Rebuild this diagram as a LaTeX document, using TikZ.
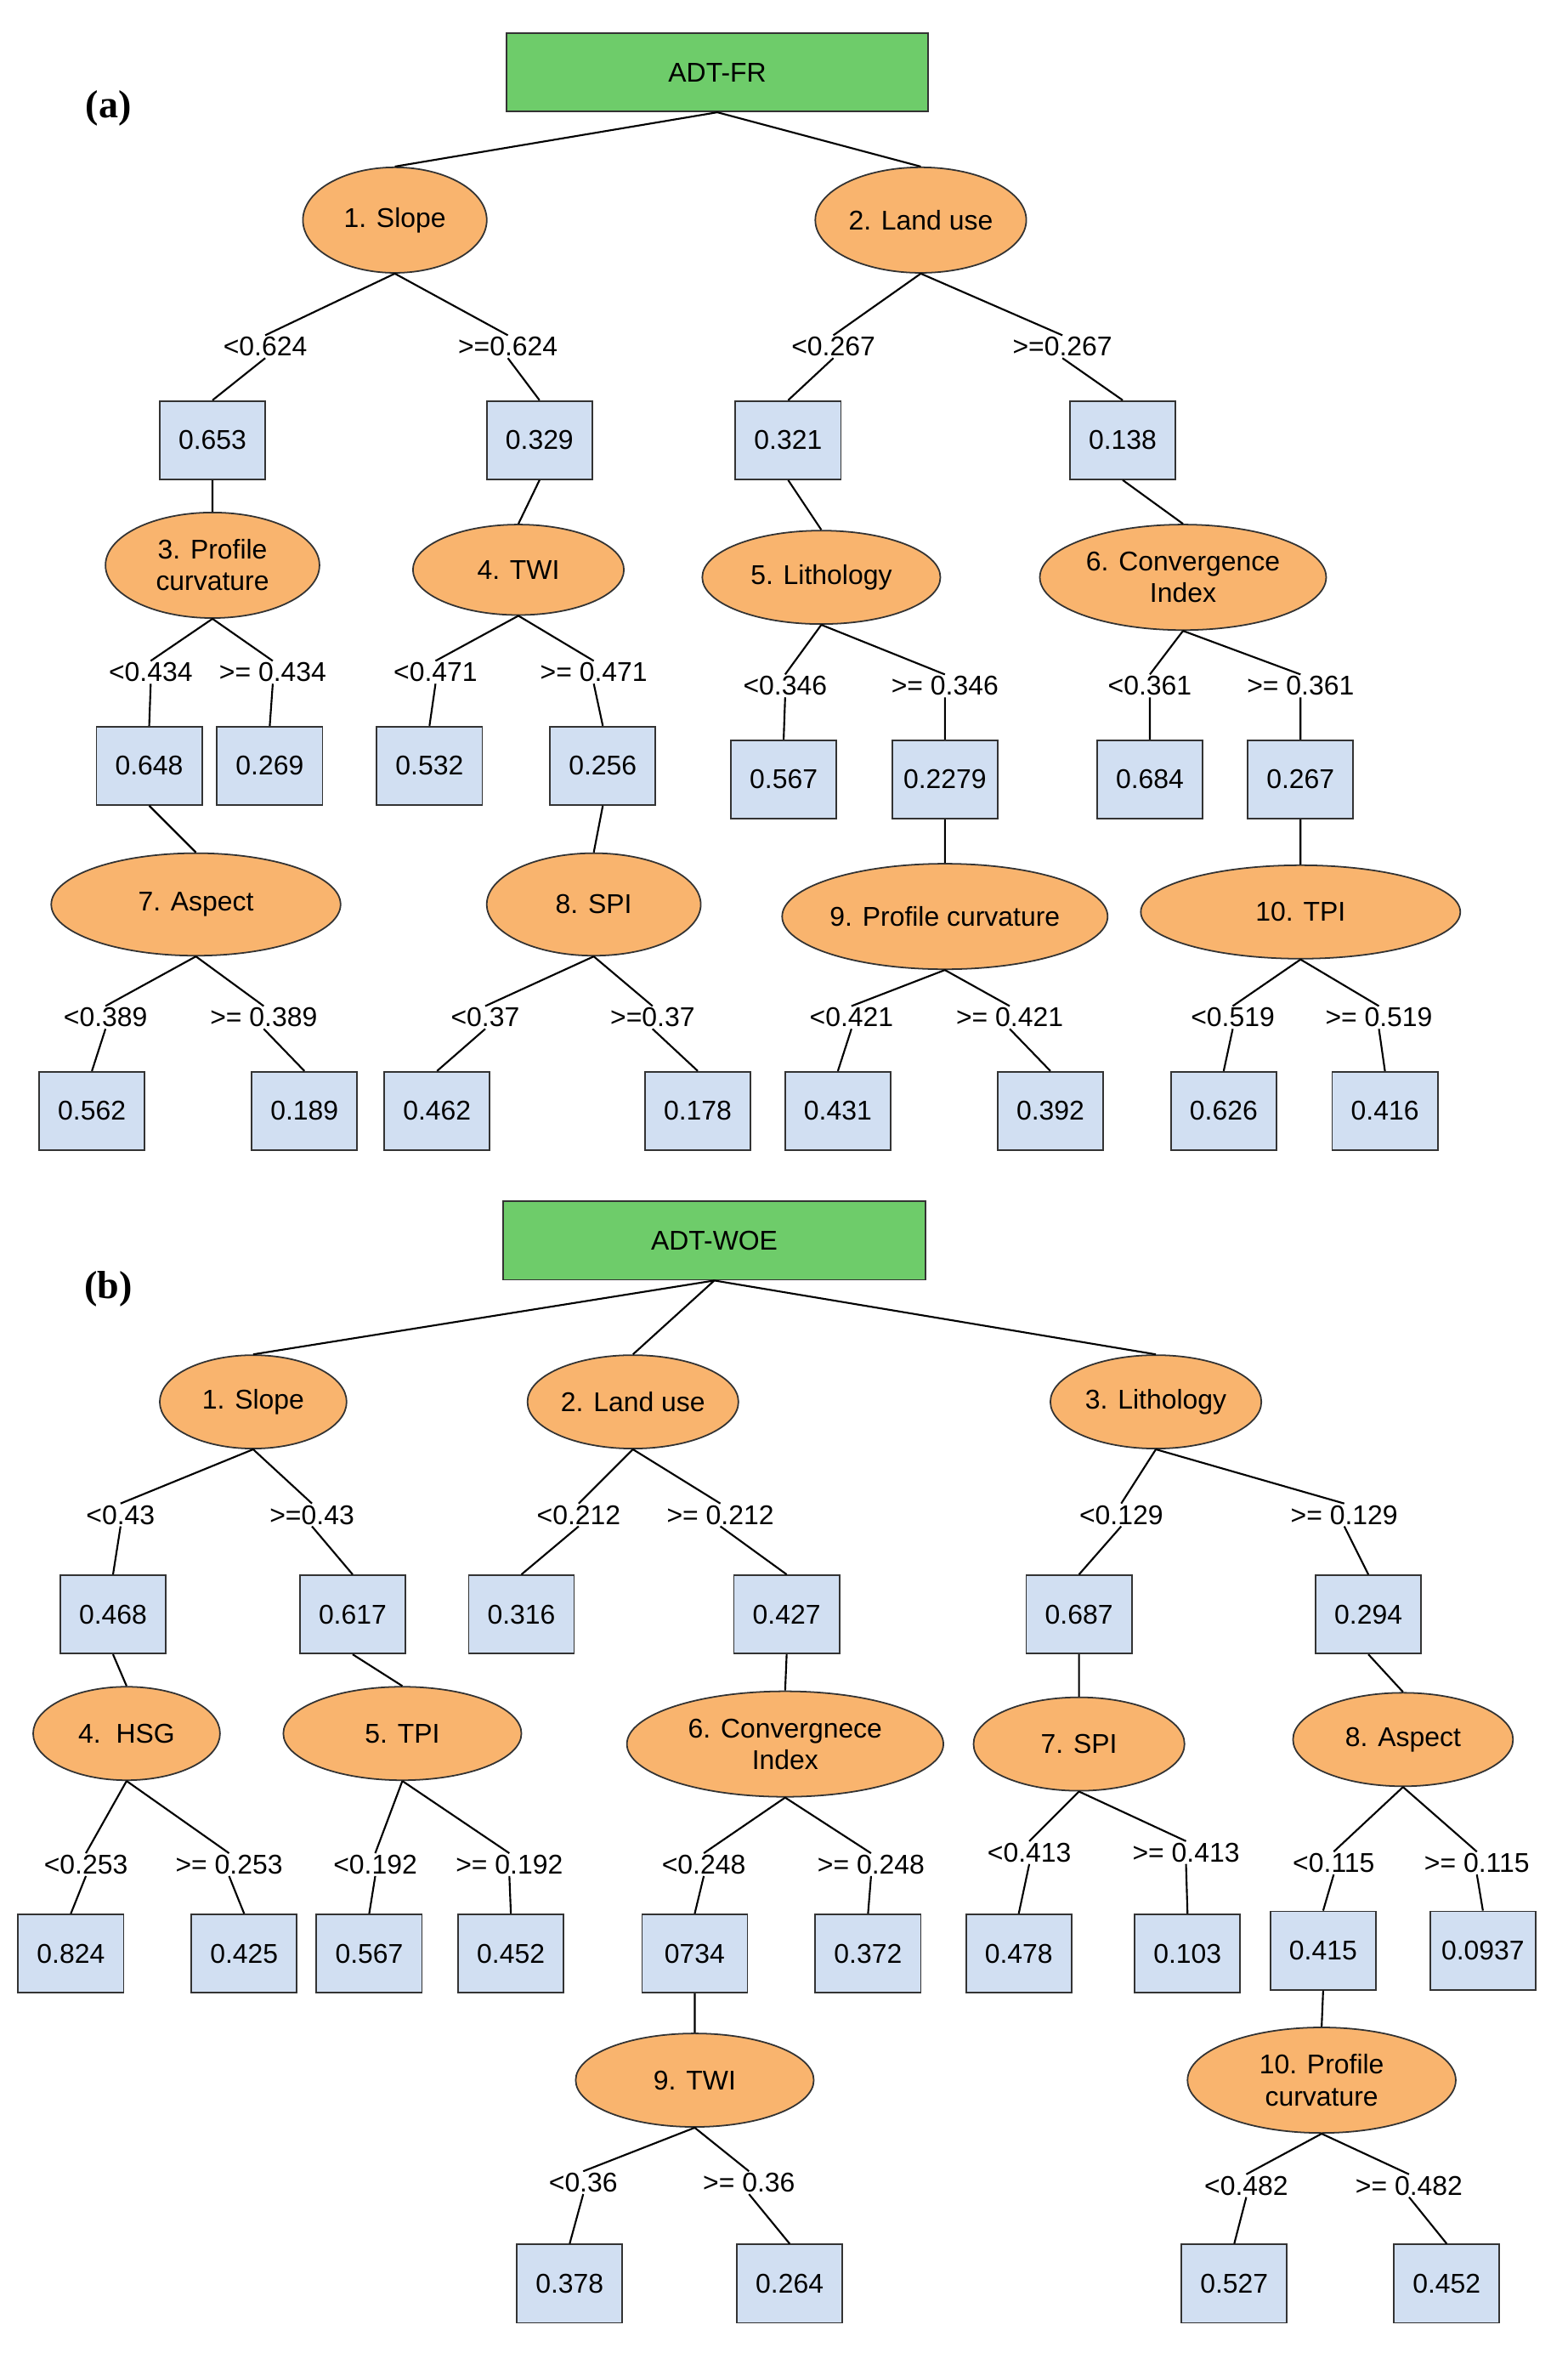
\documentclass[tikz,border=0pt]{standalone}
\usepackage{fontspec}
\setmainfont{Liberation Sans}
\newfontfamily\serifb{Liberation Serif}
\usetikzlibrary{shapes.geometric}
\begin{document}
\begin{tikzpicture}[x=1pt,y=-1pt,
 every node/.style={font=\fontsize{18}{20}\selectfont},
 root/.style={draw=black!80,line width=1pt,fill={rgb,255:red,110;green,204;blue,106},minimum width=280,minimum height=52,inner sep=0},
 el/.style={ellipse,draw=black!80,line width=1pt,fill={rgb,255:red,249;green,180;blue,110},inner sep=0,align=center,font=\fontsize{18}{21}\selectfont},
 bx/.style={draw=black!80,line width=1pt,fill={rgb,255:red,209;green,223;blue,242},minimum width=70,minimum height=52,inner sep=2},
 lb/.style={inner sep=1},
 ln/.style={line width=1.2pt}]
\useasboundingbox (0,0) rectangle (1040,1561);
\node[font=\serifb\bfseries\fontsize{26}{28}\selectfont] at (72,72) {(a)};
\node[font=\serifb\bfseries\fontsize{26}{28}\selectfont] at (72,855) {(b)};
% ---------- (a)
\node[root] (A) at (476,48) {ADT-FR};
\node[el,minimum width=122,minimum height=70] (a1) at (262,146) {1. Slope};
\node[el,minimum width=140,minimum height=70] (a2) at (611,146) {2. Land use};
\node[lb] (la1) at (176,230) {<0.624};
\node[lb] (la2) at (337,230) {>=0.624};
\node[lb] (la3) at (553,230) {<0.267};
\node[lb] (la4) at (705,230) {>=0.267};
\node[bx] (b1) at (141,292) {0.653};
\node[bx] (b2) at (358,292) {0.329};
\node[bx] (b3) at (523,292) {0.321};
\node[bx] (b4) at (745,292) {0.138};
\node[el,minimum width=142,minimum height=70] (a3) at (141,375) {3. Profile\\curvature};
\node[el,minimum width=140,minimum height=60] (a4) at (344,378) {4. TWI};
\node[el,minimum width=158,minimum height=62] (a5) at (545,383) {5. Lithology};
\node[el,minimum width=190,minimum height=70] (a6) at (785,383) {6. Convergence\\Index};
\node[lb] (lb1) at (100,446) {<0.434};
\node[lb] (lb2) at (181,446) {>= 0.434};
\node[lb] (lb3) at (289,446) {<0.471};
\node[lb] (lb4) at (394,446) {>= 0.471};
\node[lb] (lb5) at (521,455) {<0.346};
\node[lb] (lb6) at (627,455) {>= 0.346};
\node[lb] (lb7) at (763,455) {<0.361};
\node[lb] (lb8) at (863,455) {>= 0.361};
\node[bx] (c1) at (99,508) {0.648};
\node[bx] (c2) at (179,508) {0.269};
\node[bx] (c3) at (285,508) {0.532};
\node[bx] (c4) at (400,508) {0.256};
\node[bx] (c5) at (520,517) {0.567};
\node[bx] (c6) at (627,517) {0.2279};
\node[bx] (c7) at (763,517) {0.684};
\node[bx] (c8) at (863,517) {0.267};
\node[el,minimum width=192,minimum height=68] (a7) at (130,600) {7. Aspect};
\node[el,minimum width=142,minimum height=68] (a8) at (394,600) {8. SPI};
\node[el,minimum width=212,minimum height=70] (a9) at (627,608) {9. Profile curvature};
\node[el,minimum width=212,minimum height=62] (a10) at (863,605) {10. TPI};
\node[lb] (lc1) at (70,675) {<0.389};
\node[lb] (lc2) at (175,675) {>= 0.389};
\node[lb] (lc3) at (322,675) {<0.37};
\node[lb] (lc4) at (433,675) {>=0.37};
\node[lb] (lc5) at (565,675) {<0.421};
\node[lb] (lc6) at (670,675) {>= 0.421};
\node[lb] (lc7) at (818,675) {<0.519};
\node[lb] (lc8) at (915,675) {>= 0.519};
\node[bx] (d1) at (61,737) {0.562};
\node[bx] (d2) at (202,737) {0.189};
\node[bx] (d3) at (290,737) {0.462};
\node[bx] (d4) at (463,737) {0.178};
\node[bx] (d5) at (556,737) {0.431};
\node[bx] (d6) at (697,737) {0.392};
\node[bx] (d7) at (812,737) {0.626};
\node[bx] (d8) at (919,737) {0.416};
\draw[ln] (A.south)--(a1.north) (A.south)--(a2.north);
\draw[ln] (a1.south)--(la1.north) (a1.south)--(la2.north) (a2.south)--(la3.north) (a2.south)--(la4.north);
\draw[ln] (la1.south)--(b1.north) (la2.south)--(b2.north) (la3.south)--(b3.north) (la4.south)--(b4.north);
\draw[ln] (b1.south)--(a3.north) (b2.south)--(a4.north) (b3.south)--(a5.north) (b4.south)--(a6.north);
\draw[ln] (a3.south)--(lb1.north) (a3.south)--(lb2.north) (a4.south)--(lb3.north) (a4.south)--(lb4.north)
 (a5.south)--(lb5.north) (a5.south)--(lb6.north) (a6.south)--(lb7.north) (a6.south)--(lb8.north);
\draw[ln] (lb1.south)--(c1.north) (lb2.south)--(c2.north) (lb3.south)--(c3.north) (lb4.south)--(c4.north)
 (lb5.south)--(c5.north) (lb6.south)--(c6.north) (lb7.south)--(c7.north) (lb8.south)--(c8.north);
\draw[ln] (c1.south)--(a7.north) (c4.south)--(a8.north) (c6.south)--(a9.north) (c8.south)--(a10.north);
\draw[ln] (a7.south)--(lc1.north) (a7.south)--(lc2.north) (a8.south)--(lc3.north) (a8.south)--(lc4.north)
 (a9.south)--(lc5.north) (a9.south)--(lc6.north) (a10.south)--(lc7.north) (a10.south)--(lc8.north);
\draw[ln] (lc1.south)--(d1.north) (lc2.south)--(d2.north) (lc3.south)--(d3.north) (lc4.south)--(d4.north)
 (lc5.south)--(d5.north) (lc6.south)--(d6.north) (lc7.south)--(d7.north) (lc8.south)--(d8.north);
% ---------- (b)
\node[root] (B) at (474,823) {ADT-WOE};
\node[el,minimum width=124,minimum height=62] (e1) at (168,930) {1. Slope};
\node[el,minimum width=140,minimum height=62] (e2) at (420,930) {2. Land use};
\node[el,minimum width=140,minimum height=62] (e3) at (767,930) {3. Lithology};
\node[lb] (m1) at (80,1005) {<0.43};
\node[lb] (m2) at (207,1005) {>=0.43};
\node[lb] (m3) at (384,1005) {<0.212};
\node[lb] (m4) at (478,1005) {>= 0.212};
\node[lb] (m5) at (744,1005) {<0.129};
\node[lb] (m6) at (892,1005) {>= 0.129};
\node[bx] (f1) at (75,1071) {0.468};
\node[bx] (f2) at (234,1071) {0.617};
\node[bx] (f3) at (346,1071) {0.316};
\node[bx] (f4) at (522,1071) {0.427};
\node[bx] (f5) at (716,1071) {0.687};
\node[bx] (f6) at (908,1071) {0.294};
\node[el,minimum width=124,minimum height=62] (e4) at (84,1150) {4.\ \ HSG};
\node[el,minimum width=158,minimum height=62] (e5) at (267,1150) {5. TPI};
\node[el,minimum width=210,minimum height=70] (e6) at (521,1157) {6. Convergnece\\Index};
\node[el,minimum width=140,minimum height=62] (e7) at (716,1157) {7. SPI};
\node[el,minimum width=146,minimum height=62] (e8) at (931,1154) {8. Aspect};
\node[lb] (n1) at (57,1237) {<0.253};
\node[lb] (n2) at (152,1237) {>= 0.253};
\node[lb] (n3) at (249,1237) {<0.192};
\node[lb] (n4) at (338,1237) {>= 0.192};
\node[lb] (n5) at (467,1237) {<0.248};
\node[lb] (n6) at (578,1237) {>= 0.248};
\node[lb] (n7) at (683,1229) {<0.413};
\node[lb] (n8) at (787,1229) {>= 0.413};
\node[lb] (n9) at (885,1236) {<0.115};
\node[lb] (n10) at (980,1236) {>= 0.115};
\node[bx] (g1) at (47,1296) {0.824};
\node[bx] (g2) at (162,1296) {0.425};
\node[bx] (g3) at (245,1296) {0.567};
\node[bx] (g4) at (339,1296) {0.452};
\node[bx] (g5) at (461,1296) {0734};
\node[bx] (g6) at (576,1296) {0.372};
\node[bx] (g7) at (676,1296) {0.478};
\node[bx] (g8) at (788,1296) {0.103};
\node[bx] (g9) at (878,1294) {0.415};
\node[bx] (g10) at (984,1294) {0.0937};
\node[el,minimum width=158,minimum height=62] (e9) at (461,1380) {9. TWI};
\node[el,minimum width=178,minimum height=70] (e10) at (877,1380) {10. Profile\\curvature};
\node[lb] (o1) at (387,1448) {<0.36};
\node[lb] (o2) at (497,1448) {>= 0.36};
\node[lb] (o3) at (827,1450) {<0.482};
\node[lb] (o4) at (935,1450) {>= 0.482};
\node[bx] (h1) at (378,1515) {0.378};
\node[bx] (h2) at (524,1515) {0.264};
\node[bx] (h3) at (819,1515) {0.527};
\node[bx] (h4) at (960,1515) {0.452};
\draw[ln] (B.south)--(e1.north) (B.south)--(e2.north) (B.south)--(e3.north);
\draw[ln] (e1.south)--(m1.north) (e1.south)--(m2.north) (e2.south)--(m3.north) (e2.south)--(m4.north) (e3.south)--(m5.north) (e3.south)--(m6.north);
\draw[ln] (m1.south)--(f1.north) (m2.south)--(f2.north) (m3.south)--(f3.north) (m4.south)--(f4.north) (m5.south)--(f5.north) (m6.south)--(f6.north);
\draw[ln] (f1.south)--(e4.north) (f2.south)--(e5.north) (f4.south)--(e6.north) (f5.south)--(e7.north) (f6.south)--(e8.north);
\draw[ln] (e4.south)--(n1.north) (e4.south)--(n2.north) (e5.south)--(n3.north) (e5.south)--(n4.north) (e6.south)--(n5.north) (e6.south)--(n6.north)
 (e7.south)--(n7.north) (e7.south)--(n8.north) (e8.south)--(n9.north) (e8.south)--(n10.north);
\draw[ln] (n1.south)--(g1.north) (n2.south)--(g2.north) (n3.south)--(g3.north) (n4.south)--(g4.north) (n5.south)--(g5.north) (n6.south)--(g6.north)
 (n7.south)--(g7.north) (n8.south)--(g8.north) (n9.south)--(g9.north) (n10.south)--(g10.north);
\draw[ln] (g5.south)--(e9.north) (g9.south)--(e10.north);
\draw[ln] (e9.south)--(o1.north) (e9.south)--(o2.north) (e10.south)--(o3.north) (e10.south)--(o4.north);
\draw[ln] (o1.south)--(h1.north) (o2.south)--(h2.north) (o3.south)--(h3.north) (o4.south)--(h4.north);
\end{tikzpicture}
\end{document}
